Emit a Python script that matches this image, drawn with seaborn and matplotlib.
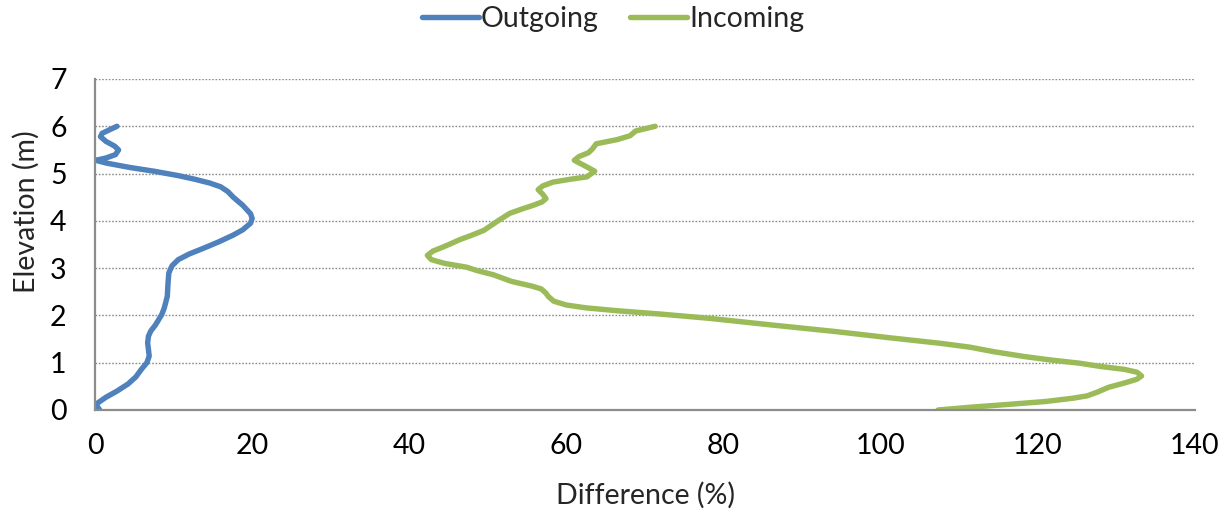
import matplotlib
matplotlib.use("Agg")
import matplotlib.pyplot as plt
import seaborn as sns
import pandas as pd

# Difference profiles against elevation
out_elev = [0.00, 0.12, 0.27, 0.40, 0.55, 0.70, 0.86, 1.00, 1.14, 1.28, 1.42, 1.56,
            1.67, 1.80, 1.91, 2.02, 2.15, 2.40, 2.70, 2.90, 3.05, 3.18, 3.30, 3.42,
            3.56, 3.70, 3.81, 3.95, 4.05, 4.15, 4.33, 4.50, 4.62, 4.72, 4.80, 4.88,
            4.96, 5.05, 5.13, 5.22, 5.28, 5.33, 5.40, 5.50, 5.58, 5.68, 5.78, 5.85,
            5.93, 6.00]
out_diff = [0.6, 0.1, 1.4, 2.8, 4.2, 5.2, 5.9, 6.6, 6.9, 6.8, 6.7, 6.8,
            7.1, 7.7, 8.1, 8.5, 8.8, 9.2, 9.3, 9.4, 9.8, 10.6, 12.0, 13.8,
            15.8, 17.6, 18.8, 19.8, 20.0, 19.8, 18.8, 17.6, 16.9, 16.0, 14.6, 12.7,
            10.5, 7.5, 4.4, 1.5, 0.1, 1.4, 2.6, 3.0, 2.5, 1.4, 0.7, 0.9,
            1.9, 2.8]

in_elev = [0.00, 0.06, 0.11, 0.18, 0.25, 0.30, 0.38, 0.48, 0.57, 0.65, 0.72, 0.80,
           0.86, 0.92, 0.99, 1.06, 1.13, 1.23, 1.33, 1.41, 1.53, 1.66, 1.80, 1.94,
           2.03, 2.10, 2.16, 2.22, 2.30, 2.40, 2.47, 2.56, 2.62, 2.72, 2.86, 2.95,
           3.02, 3.10, 3.18, 3.27, 3.36, 3.46, 3.60, 3.70, 3.80, 3.98, 4.16, 4.26,
           4.33, 4.40, 4.47, 4.56, 4.66, 4.74, 4.82, 4.88, 4.93, 5.05, 5.15, 5.28,
           5.36, 5.44, 5.52, 5.63, 5.72, 5.80, 5.90, 6.00]
in_diff = [107.3, 111.5, 115.6, 121.0, 124.5, 126.3, 127.6, 129.0, 131.0, 132.6, 133.2, 132.6,
           131.0, 128.0, 125.3, 121.5, 118.3, 114.5, 111.3, 107.6, 101.0, 94.2, 86.0, 78.1,
           71.9, 66.4, 62.5, 60.0, 58.4, 57.7, 57.4, 56.8, 55.6, 53.0, 50.7, 48.6,
           47.3, 44.5, 42.8, 42.3, 43.0, 44.5, 46.4, 48.0, 49.5, 51.1, 52.8, 54.5,
           55.8, 56.9, 57.4, 57.0, 56.4, 57.0, 58.3, 60.5, 62.6, 63.6, 62.5, 61.0,
           61.6, 62.8, 63.3, 63.8, 66.5, 68.1, 68.8, 71.3]

series_names = ["Outgoing", "Incoming"]
series_colors = ["#4F81BD", "#9BBB59"]

df = pd.concat([
    pd.DataFrame({"Difference": out_diff, "Elevation": out_elev, "Series": series_names[0]}),
    pd.DataFrame({"Difference": in_diff, "Elevation": in_elev, "Series": series_names[1]}),
], ignore_index=True)

sns.set_style("white")
plt.rcParams["font.family"] = ["Lato", "DejaVu Sans"]
FS = 20.5

fig = plt.figure(figsize=(12.3, 5.19), dpi=100)
ax = fig.add_axes([95 / 1230, 109 / 519, 1100 / 1230, 331 / 519])

sns.lineplot(data=df, x="Difference", y="Elevation", hue="Series", sort=False,
             estimator=None, units="Series", palette=dict(zip(series_names, series_colors)),
             linewidth=3.9, ax=ax, legend=True)
for line in ax.get_lines():
    line.set_solid_joinstyle("round")
    line.set_solid_capstyle("round")

ax.set_xlim(0, 140)
ax.set_ylim(0, 7)
ax.set_xticks(range(0, 141, 20))
ax.set_yticks(range(0, 8))

grid_col = "#8c8c8c"
ax.yaxis.grid(True, color=grid_col, linestyle=(0, (1.2, 1.2)), linewidth=1.0)
ax.xaxis.grid(False)
ax.set_axisbelow(True)
for side in ["top", "right"]:
    ax.spines[side].set_visible(False)
for side in ["left", "bottom"]:
    ax.spines[side].set_color("#8c8c8c")
    ax.spines[side].set_linewidth(1.6)

ax.tick_params(axis="both", which="major", direction="out", length=7.5, width=1.6,
               color="#8c8c8c", labelsize=FS, labelcolor="black")
ax.tick_params(axis="y", pad=13)
ax.tick_params(axis="x", pad=9)
ax.set_xlabel("Difference (%)", fontsize=FS)
ax.set_ylabel("Elevation (m)", fontsize=FS)
ax.xaxis.set_label_coords(0.5, -0.218)
ax.yaxis.set_label_coords(-0.05, 0.6)

handles, labels = ax.get_legend_handles_labels()
ax.legend_.remove()
fig.legend(handles, labels, loc="center", bbox_to_anchor=(613 / 1230, 1 - 19 / 519),
           ncol=2, frameon=False, fontsize=FS, handlelength=2.0, handletextpad=0.08,
           columnspacing=1.1)

fig.savefig("out.png", dpi=100)
